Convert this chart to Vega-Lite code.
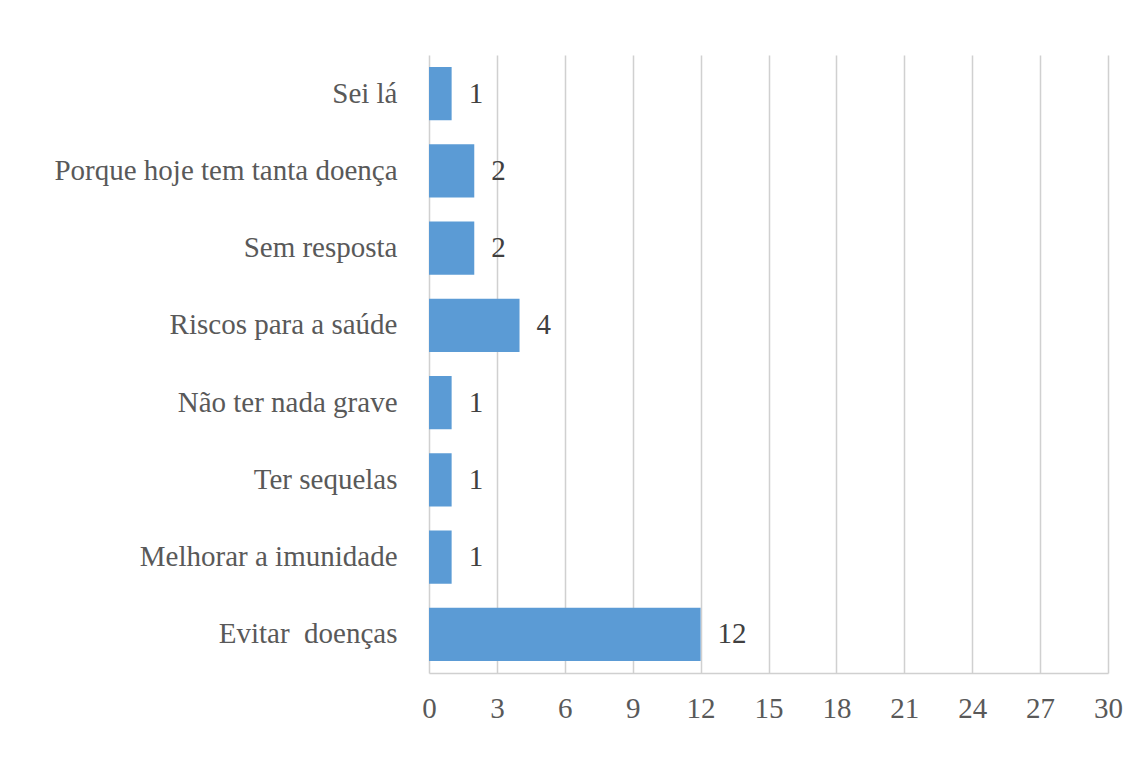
{
  "$schema": "https://vega.github.io/schema/vega-lite/v6.json",
  "autosize": "none",
  "width": 679,
  "height": 618,
  "padding": {"left": 429, "top": 55, "right": 31, "bottom": 85},
  "background": "white",
  "data": {
    "values": [
      {"resposta": "Sei lá", "n": 1},
      {"resposta": "Porque hoje tem tanta doença", "n": 2},
      {"resposta": "Sem resposta", "n": 2},
      {"resposta": "Riscos para a saúde", "n": 4},
      {"resposta": "Não ter nada grave", "n": 1},
      {"resposta": "Ter sequelas", "n": 1},
      {"resposta": "Melhorar a imunidade", "n": 1},
      {"resposta": "Evitar\u00a0 doenças", "n": 12}
    ]
  },
  "encoding": {
    "y": {
      "field": "resposta",
      "type": "nominal",
      "sort": null,
      "scale": {"paddingInner": 0.31, "paddingOuter": 0.155},
      "axis": {
        "title": null,
        "ticks": false,
        "domain": false,
        "labelFont": "Liberation Serif",
        "labelFontSize": 29,
        "labelColor": "#595959",
        "labelPadding": 32,
        "labelLimit": 600
      }
    },
    "x": {
      "field": "n",
      "type": "quantitative",
      "scale": {"domain": [0, 30], "nice": false},
      "axis": {
        "title": null,
        "values": [0, 3, 6, 9, 12, 15, 18, 21, 24, 27, 30],
        "ticks": false,
        "domain": true,
        "domainColor": "#d0d0d0",
        "domainWidth": 1.5,
        "grid": true,
        "gridColor": "#d0d0d0",
        "gridWidth": 1.5,
        "labelFlush": false,
        "labelFont": "Liberation Serif",
        "labelFontSize": 29,
        "labelColor": "#595959",
        "labelPadding": 21
      }
    }
  },
  "layer": [
    {"mark": {"type": "bar", "color": "#5b9bd5"}},
    {
      "mark": {
        "type": "text",
        "align": "left",
        "baseline": "middle",
        "dx": 17,
        "font": "Liberation Serif",
        "fontSize": 29,
        "color": "#404040"
      },
      "encoding": {"text": {"field": "n", "type": "quantitative"}}
    }
  ],
  "config": {"view": {"stroke": null}}
}
